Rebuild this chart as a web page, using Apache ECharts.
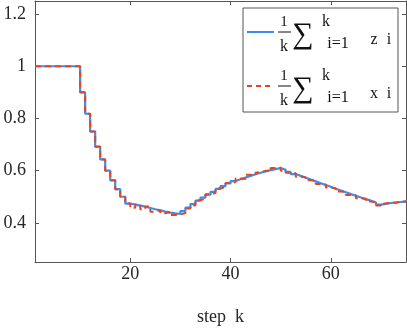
<!DOCTYPE html>
<html>
<head>
<meta charset="UTF-8">
<title></title>
</head>
<body style="margin:0">
<div id="main" style="width:407px;height:331px;"></div>
<script src="https://cdn.jsdelivr.net/npm/echarts@6/dist/echarts.min.js"></script>
<script>
// running averages, k = 1..75
var steps = [];
for (var k = 1; k <= 75; k++) steps.push(k);
var zMean = [1,1,1,1,1,1,1,1,1,0.900,0.818,0.750,0.692,0.643,0.600,0.563,0.529,0.500,0.474,
  0.470,0.466,0.462,0.457,0.452,0.448,0.443,0.439,0.436,0.434,
  0.445,0.458,0.472,0.485,0.497,0.508,0.519,0.530,0.541,0.551,
  0.560,0.567,0.574,0.580,0.586,0.592,0.597,0.602,0.606,0.610,
  0.603,0.595,0.587,0.580,0.573,0.566,0.559,0.552,0.545,0.538,
  0.531,0.524,0.517,0.510,0.504,0.497,0.491,0.485,0.478,0.470,
  0.473,0.476,0.478,0.480,0.482,0.485];
var xMean = [1,1,1,1,1,1,1,1,1,0.900,0.818,0.750,0.692,0.643,0.600,0.563,0.529,0.500,0.474,
  0.458,0.470,0.452,0.463,0.443,0.449,0.437,0.442,0.430,0.432,
  0.438,0.455,0.466,0.487,0.492,0.510,0.514,0.532,0.537,0.553,
  0.556,0.570,0.568,0.584,0.582,0.593,0.600,0.598,0.610,0.612,
  0.600,0.592,0.590,0.577,0.575,0.563,0.561,0.549,0.547,0.535,
  0.533,0.520,0.519,0.507,0.506,0.494,0.492,0.482,0.480,0.466,
  0.474,0.478,0.477,0.482,0.481,0.486];
var xTicks = [20, 40, 60];
var yTicks = [0.4, 0.6, 0.8, 1, 1.2];

var font = '"Liberation Serif", serif';
var axisCol = '#555';
var blue = '#3b8df2';
var red = '#e5461e';

function pairs(v) {
  return steps.map(function (k, i) { return [k, v[i]]; });
}

function xAx(pos, labels) {
  return {
    type: 'value', position: pos, min: 1, max: 75,
    axisLine: { show: true, lineStyle: { color: axisCol } },
    axisTick: { inside: true, length: 4, customValues: xTicks, lineStyle: { color: axisCol } },
    axisLabel: { show: labels, customValues: xTicks, margin: 3, color: '#262626', fontFamily: font, fontSize: 18 },
    splitLine: { show: false },
    name: labels ? 'step  k' : '', nameLocation: 'middle', nameGap: 46,
    nameTextStyle: { color: '#262626', fontFamily: font, fontSize: 18 }
  };
}
function yAx(pos, labels) {
  return {
    type: 'value', position: pos, min: 0.25, max: 1.25,
    axisLine: { show: true, lineStyle: { color: axisCol } },
    axisTick: { inside: true, length: 4, customValues: yTicks, lineStyle: { color: axisCol } },
    axisLabel: { show: labels, customValues: yTicks, margin: 9, color: '#262626', fontFamily: font, fontSize: 18 },
    splitLine: { show: false }
  };
}

// legend drawn by hand (fraction + sum notation)
function legendEntry(y, color, dash, letter) {
  var t = function (x, yy, s, size) {
    return { type: 'text', x: x, y: yy, style: { text: s, font: size + 'px ' + font, fill: '#111', align: 'center', verticalAlign: 'middle' } };
  };
  return [
    { type: 'line', shape: { x1: 247, y1: y, x2: 274, y2: y }, style: { stroke: color, lineWidth: 2, lineDash: dash } },
    t(284, y - 10, '1', 15),
    { type: 'line', shape: { x1: 278, y1: y, x2: 291, y2: y }, style: { stroke: '#111', lineWidth: 1 } },
    t(284, y + 15, 'k', 16),
    t(303, y + 3, '\u2211', 30),
    t(326, y - 10, 'k', 16),
    t(338, y + 12, 'i=1', 16),
    t(374, y + 8, letter, 16),
    t(389, y + 8, 'i', 16)
  ];
}

var chart = echarts.init(document.getElementById('main'));
chart.setOption({
  animation: false,
  grid: { left: 35, right: 1, top: 1, bottom: 58 },
  xAxis: [xAx('bottom', true), xAx('top', false)],
  yAxis: [yAx('left', true), yAx('right', false)],
  series: [
    { type: 'line', step: 'end', showSymbol: false, data: pairs(zMean),
      lineStyle: { color: blue, width: 2.2 } },
    { type: 'line', step: 'end', showSymbol: false, data: pairs(xMean),
      lineStyle: { color: red, width: 2, type: [6, 4] } }
  ],
  graphic: [
    { type: 'rect', shape: { x: 243, y: 8, width: 155, height: 104 }, style: { fill: '#fff', stroke: '#555', lineWidth: 1 } }
  ].concat(legendEntry(32, blue, null, 'z'), legendEntry(86, red, [5, 4], 'x'))
});
</script>
</body>
</html>
